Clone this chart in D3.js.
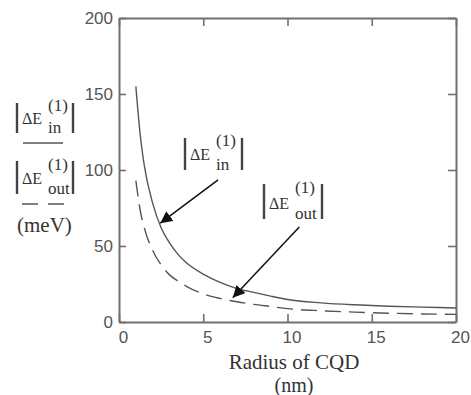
<!DOCTYPE html>
<html>
<head>
<meta charset="utf-8">
<script src="https://cdn.jsdelivr.net/npm/d3@7"></script>
<style>
  html, body { margin: 0; padding: 0; background: #fff; }
  svg { display: block; }
</style>
</head>
<body>
<svg id="chart" width="471" height="395"></svg>
<script>
// ---- data ----
const radius   = [1, 1.25, 1.5, 2, 2.5, 3, 3.5, 4, 5, 6, 7, 8, 9, 10, 12, 14, 16, 18, 20];
const deltaEIn  = [155, 124, 103, 78, 62, 52, 44.5, 39, 31.5, 26, 22, 19.5, 17, 14.8, 12.6, 11.3, 10.4, 9.8, 9.2];
const deltaEOut = [93, 74, 62, 47, 37.5, 31, 27, 23.5, 18.5, 15.5, 13.3, 11.6, 10.2, 8.8, 7.4, 6.5, 5.8, 5.3, 5.0];
const xTicks = [0, 5, 10, 15, 20];
const yTicks = [0, 50, 100, 150, 200];
// annotation arrows: [fromR, fromE, toR, toE]
const arrowIn  = [5.88, 93.5, 2.45, 65];
const arrowOut = [10.7, 62.5, 6.75, 16];

const svg = d3.select("#chart");
const L = 119, R = 456, T = 18, B = 322;
const x = d3.scaleLinear().domain([0, 20]).range([L, R]);
const y = d3.scaleLinear().domain([0, 200]).range([B, T]);

const frameColor = "#707070";
const labelFont = "'Liberation Sans', Arial, sans-serif";
const serif = "'Liberation Serif', 'Times New Roman', serif";

// axes
const gl = svg.append("g").attr("transform", `translate(${L},0)`)
  .call(d3.axisLeft(y).tickValues(yTicks).tickSizeInner(-7).tickSizeOuter(0).tickPadding(6));
const gr = svg.append("g").attr("transform", `translate(${R},0)`)
  .call(d3.axisRight(y).tickValues(yTicks).tickSizeInner(-8).tickSizeOuter(0).tickFormat(""));
const gt = svg.append("g").attr("transform", `translate(0,${T})`)
  .call(d3.axisTop(x).tickValues(xTicks).tickSizeInner(-8).tickSizeOuter(0).tickFormat(""));
const gb = svg.append("g").attr("transform", `translate(0,${B})`)
  .call(d3.axisBottom(x).tickValues(xTicks).tickSizeInner(-8).tickSizeOuter(0).tickPadding(9));

[gl, gr, gt, gb].forEach(g => {
  g.select(".domain").attr("stroke", frameColor).attr("stroke-width", 2);
  g.selectAll(".tick line").attr("stroke", frameColor).attr("stroke-width", 1.6);
  g.selectAll(".tick text").attr("fill", "#555").attr("font-family", labelFont).attr("font-size", 17);
});
gb.selectAll(".tick text").attr("dx", 4);

// curves
const line = d3.line().x(d => x(d[0])).y(d => y(d[1])).curve(d3.curveMonotoneX);
svg.append("path")
  .attr("d", line(radius.map((r, i) => [r, deltaEIn[i]])))
  .attr("fill", "none").attr("stroke", "#555").attr("stroke-width", 1.4);
svg.append("path")
  .attr("d", line(radius.map((r, i) => [r, deltaEOut[i]])))
  .attr("fill", "none").attr("stroke", "#555").attr("stroke-width", 1.4)
  .attr("stroke-dasharray", "16,8");

// arrow marker
svg.append("defs").append("marker")
  .attr("id", "ah").attr("viewBox", "0 0 10 10").attr("refX", 10).attr("refY", 5)
  .attr("markerWidth", 12).attr("markerHeight", 12).attr("markerUnits", "userSpaceOnUse")
  .attr("orient", "auto")
  .append("path").attr("d", "M0,0 L10,5 L0,10 z").attr("fill", "#111");

[arrowIn, arrowOut].forEach(a => {
  svg.append("line")
    .attr("x1", x(a[0])).attr("y1", y(a[1])).attr("x2", x(a[2])).attr("y2", y(a[3]))
    .attr("stroke", "#111").attr("stroke-width", 1.5).attr("marker-end", "url(#ah)");
});

// rich label |ΔE_sub^(1)|
function deltaLabel(g, x0, yTop, h, width, sub) {
  const bar = (xx) => g.append("line").attr("x1", xx).attr("x2", xx)
    .attr("y1", yTop).attr("y2", yTop + h).attr("stroke", "#444").attr("stroke-width", 2.4);
  bar(x0); bar(x0 + width);
  g.append("text").attr("x", x0 + 5).attr("y", yTop + h * 0.70)
    .attr("font-family", serif).attr("font-size", 16).attr("fill", "#333").text("ΔE");
  g.append("text").attr("x", x0 + 31).attr("y", yTop + h * 0.26)
    .attr("font-family", serif).attr("font-size", 17).attr("fill", "#333").text("(1)");
  g.append("text").attr("x", x0 + 31).attr("y", yTop + h * 0.99)
    .attr("font-family", serif).attr("font-size", 17).attr("fill", "#333").text(sub);
}

// left axis title
const lt = svg.append("g");
deltaLabel(lt, 17, 103, 30, 56, "in");
lt.append("line").attr("x1", 23).attr("x2", 63).attr("y1", 143).attr("y2", 143)
  .attr("stroke", "#555").attr("stroke-width", 1.5);
deltaLabel(lt, 17, 161, 33, 56, "out");
lt.append("line").attr("x1", 22).attr("x2", 64).attr("y1", 204).attr("y2", 204)
  .attr("stroke", "#555").attr("stroke-width", 1.5).attr("stroke-dasharray", "16,10");
lt.append("text").attr("x", 17).attr("y", 232)
  .attr("font-family", serif).attr("font-size", 21).attr("fill", "#333").text("(meV)");

// in-plot annotations
deltaLabel(svg.append("g"), 185, 138, 32, 57, "in");
deltaLabel(svg.append("g"), 264, 184, 35, 58, "out");

// x axis title
svg.append("text").attr("x", 294).attr("y", 369).attr("text-anchor", "middle")
  .attr("font-family", serif).attr("font-size", 21).attr("fill", "#333").text("Radius of CQD");
svg.append("text").attr("x", 294).attr("y", 392).attr("text-anchor", "middle")
  .attr("font-family", serif).attr("font-size", 20).attr("fill", "#333").text("(nm)");
</script>
</body>
</html>
